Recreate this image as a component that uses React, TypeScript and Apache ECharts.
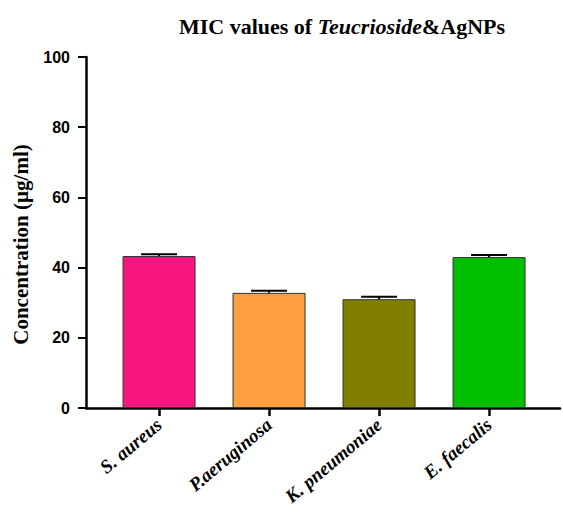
import React, { useEffect, useRef } from "react";
import * as echarts from "echarts";

const categories = ["S. aureus", "P.aeruginosa", "K. pneumoniae", "E. faecalis"];
const values = [43.3, 32.8, 31.0, 43.0];
const errors = [0.5, 0.6, 0.7, 0.6];
const colors = ["#F7157F", "#FF9F40", "#807F00", "#00BF00"];
const yTicks = [0, 20, 40, 60, 80, 100];

const SERIF = "'Times New Roman', 'Liberation Serif', serif";
const SANS = "Arial, 'Liberation Sans', sans-serif";

export default function App() {
  const ref = useRef<HTMLDivElement>(null);
  useEffect(() => {
    if (!ref.current) return;
    const chart = echarts.init(ref.current, null, { renderer: "svg" });
    const idx = categories.map((_, i) => i);
    chart.setOption({
      animation: false,
      backgroundColor: "#ffffff",
      title: {
        left: 337,
        textAlign: "center",
        top: 10,
        text: "{b|MIC values of }{i|Teucrioside}{b|&AgNPs}",
        textStyle: {
          rich: {
            b: { fontFamily: SERIF, fontWeight: "bold", fontSize: 22, color: "#000" },
            i: { fontFamily: SERIF, fontWeight: "bold", fontStyle: "italic", fontSize: 22, color: "#000" },
          },
        },
      },
      grid: { left: 86, right: 3, top: 57, bottom: 109, containLabel: false, outerBoundsMode: "none" },
      xAxis: {
        type: "value",
        min: -0.664,
        max: 3.645,
        splitLine: { show: false },
        axisLine: { show: true, onZero: false, lineStyle: { color: "#000", width: 2.5 } },
        axisTick: { show: true, length: 8, lineStyle: { color: "#000", width: 2.5 }, customValues: idx },
        axisLabel: {
          customValues: idx,
          rotate: 40,
          margin: 14,
          fontFamily: SERIF,
          fontWeight: "bold",
          fontStyle: "italic",
          fontSize: 19,
          color: "#000",
          formatter: (v: number) => categories[Math.round(v)] ?? "",
        },
      },
      yAxis: {
        type: "value",
        min: 0,
        max: 100,
        interval: 20,
        name: "Concentration (µg/ml)",
        nameLocation: "middle",
        nameGap: 55,
        nameTextStyle: {
          fontFamily: SERIF,
          fontWeight: "bold",
          fontSize: 21,
          color: "#000",
          padding: [0, 24, 0, 0],
        },
        splitLine: { show: false },
        axisLine: { show: true, onZero: false, lineStyle: { color: "#000", width: 2.5 } },
        axisTick: { show: true, length: 8, lineStyle: { color: "#000", width: 2 } },
        axisLabel: {
          margin: 16,
          fontFamily: SANS,
          fontWeight: "bold",
          fontSize: 16,
          color: "#000",
          customValues: yTicks,
        },
      },
      series: [
        {
          type: "bar",
          barWidth: 73,
          data: values.map((v, i) => ({
            value: [i, v],
            itemStyle: { color: colors[i], borderColor: "#333", borderWidth: 1 },
          })),
        },
        {
          type: "custom",
          z: 3,
          data: values.map((v, i) => [i, v, v + errors[i]]),
          renderItem: (params: any, api: any) => {
            const x = api.value(0);
            const lo = api.coord([x, api.value(1)]);
            const hi = api.coord([x, api.value(2)]);
            const half = 18;
            const style = { stroke: "#000", lineWidth: 2 };
            return {
              type: "group",
              children: [
                { type: "line", shape: { x1: lo[0], y1: lo[1], x2: hi[0], y2: hi[1] }, style },
                { type: "line", shape: { x1: hi[0] - half, y1: hi[1], x2: hi[0] + half, y2: hi[1] }, style },
              ],
            };
          },
        },
      ],
    });
    return () => chart.dispose();
  }, []);
  return (
    <div
      ref={ref}
      style={{ position: "absolute", left: 0, top: 0, width: 563, height: 517 }}
    />
  );
}
